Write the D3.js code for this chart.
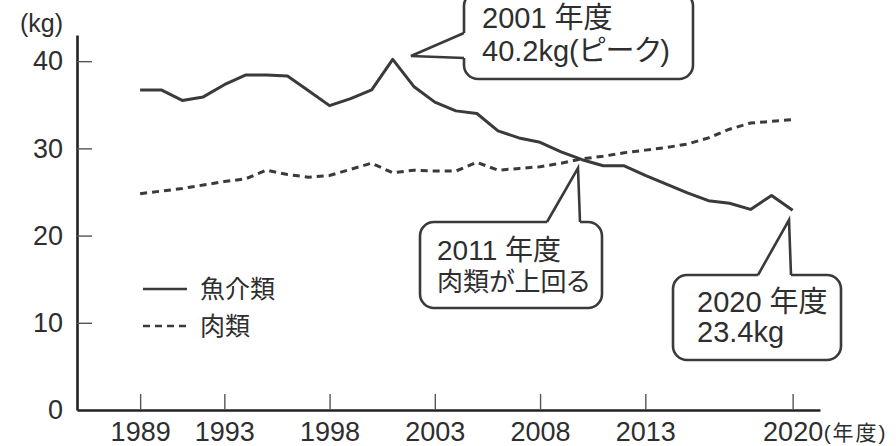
<!DOCTYPE html>
<html>
<head>
<meta charset="utf-8">
<script src="https://cdn.jsdelivr.net/npm/d3@7"></script>
<style>
  body { margin: 0; background: #fff; }
  text { font-family: "Liberation Sans", "Noto Sans CJK JP", sans-serif; fill: #2e2e2e; }
  .jp { font-feature-settings: "palt"; }
</style>
</head>
<body>
<svg width="896" height="446" id="mainsvg"></svg>
<script>
// 年度
const years = [1989, 1990, 1991, 1992, 1993, 1994, 1995, 1996, 1997, 1998, 1999, 2000,
  2001, 2002, 2003, 2004, 2005, 2006, 2007, 2008, 2009, 2010,
  2011, 2012, 2013, 2014, 2015, 2016, 2017, 2018, 2019, 2020];
// 魚介類 (kg/人・年)
const fish = [36.7, 36.7, 35.5, 35.9, 37.3, 38.4, 38.4, 38.3, 36.6, 34.9, 35.7, 36.7,
  40.2, 37.1, 35.3, 34.3, 34.0, 32.0, 31.2, 30.7, 29.6, 28.7,
  28.0, 28.0, 26.9, 25.9, 24.9, 24.0, 23.7, 23.0, 24.6, 22.9];
// 肉類
const meat = [24.8, 25.1, 25.4, 25.8, 26.2, 26.5, 27.5, 27.0, 26.7, 26.9, 27.6, 28.3,
  27.2, 27.5, 27.4, 27.4, 28.4, 27.5, 27.7, 27.9, 28.3, 28.8,
  29.1, 29.5, 29.8, 30.1, 30.5, 31.2, 32.2, 32.9, 33.1, 33.3];
const xTicks = [1989, 1993, 1998, 2003, 2008, 2013, 2020];
const yTicks = [0, 10, 20, 30, 40];
const seriesNames = ['魚介類', '肉類'];

const svg = d3.select('#mainsvg');
const ink = '#3a3a3a';

const x = d3.scaleLinear().domain([1986, 2021.3]).range([77, 820]);
const y = d3.scaleLinear().domain([0, 43]).range([410, 35]);

// 軸
const xAxis = d3.axisBottom(x).tickValues(xTicks).tickFormat(d3.format('d'))
  .tickSizeInner(-16).tickSizeOuter(0).tickPadding(12);
const yAxis = d3.axisLeft(y).tickValues(yTicks)
  .tickSizeInner(-15).tickSizeOuter(0).tickPadding(14);

const gx = svg.append('g').attr('transform', `translate(0,${y(0)})`).call(xAxis);
const gy = svg.append('g').attr('transform', `translate(${x.range()[0]},0)`).call(yAxis);
[gx, gy].forEach(g => {
  g.select('.domain').attr('stroke', '#222').attr('stroke-width', 2.6);
  g.selectAll('.tick line').attr('stroke', '#555').attr('stroke-width', 1.4);
  g.selectAll('.tick text').attr('font-size', 27).attr('fill', '#2e2e2e')
    .style('font-family', '"Liberation Sans", sans-serif');
});
gy.selectAll('.tick').filter(d => d === 0).select('line').remove();

svg.append('text').attr('x', 20).attr('y', 32).attr('font-size', 25)
  .attr('fill', '#555').text('(kg)');
svg.append('text').attr('class', 'jp').attr('x', x(2020) + 31).attr('y', 440)
  .attr('font-size', 21).attr('letter-spacing', 2).text('(年度)');

// 線
const line = d3.line().x((d, i) => x(years[i])).y(d => y(d));
svg.append('path').datum(fish).attr('d', line).attr('fill', 'none')
  .attr('stroke', ink).attr('stroke-width', 3).attr('stroke-linejoin', 'round');
svg.append('path').datum(meat).attr('d', line).attr('fill', 'none')
  .attr('stroke', ink).attr('stroke-width', 3).attr('stroke-dasharray', '7,5');

// 凡例
const legend = svg.append('g').attr('transform', 'translate(143,289)');
seriesNames.forEach((name, i) => {
  const row = legend.append('g').attr('transform', `translate(0,${i * 37})`);
  row.append('line').attr('x1', 0).attr('x2', 44)
    .attr('stroke', ink).attr('stroke-width', 2.4)
    .attr('stroke-dasharray', i === 1 ? '7,5' : null);
  row.append('text').attr('x', 57).attr('y', 9).attr('font-size', 25).text(name);
});

// 吹き出し
function callout(box, base, tip, lines) {
  const g = svg.append('g');
  g.append('rect').attr('x', box.x).attr('y', box.y).attr('width', box.w).attr('height', box.h)
    .attr('rx', 14).attr('fill', '#fff').attr('stroke', ink).attr('stroke-width', 2.6);
  g.append('line').attr('x1', base[0][0]).attr('y1', base[0][1])
    .attr('x2', base[1][0]).attr('y2', base[1][1])
    .attr('stroke', '#fff').attr('stroke-width', 5);
  g.append('path').attr('d', d3.line()([base[0], tip, base[1]]))
    .attr('fill', 'none').attr('stroke', ink).attr('stroke-width', 2.6)
    .attr('stroke-linejoin', 'miter');
  lines.forEach(l => {
    g.append('text').attr('class', 'jp').attr('x', l.x).attr('y', l.y)
      .attr('font-size', l.size || 29).text(l.t);
  });
}

callout({ x: 464, y: -8, w: 229, h: 87 }, [[464, 33], [464, 58]], [411, 56],
  [{ x: 482, y: 28, t: '2001 年度' }, { x: 482, y: 61, t: '40.2kg(ピーク)' }]);
callout({ x: 420, y: 222, w: 182, h: 86 }, [[547, 222], [580, 222]], [578, 168],
  [{ x: 437, y: 260, t: '2011 年度', size: 28 }, { x: 437, y: 291, t: '肉類が上回る', size: 26 }]);
callout({ x: 673, y: 275, w: 168, h: 85 }, [[758, 275], [791, 275]], [789, 220],
  [{ x: 697, y: 312, t: '2020 年度' }, { x: 697, y: 342, t: '23.4kg' }]);
</script>
</body>
</html>
